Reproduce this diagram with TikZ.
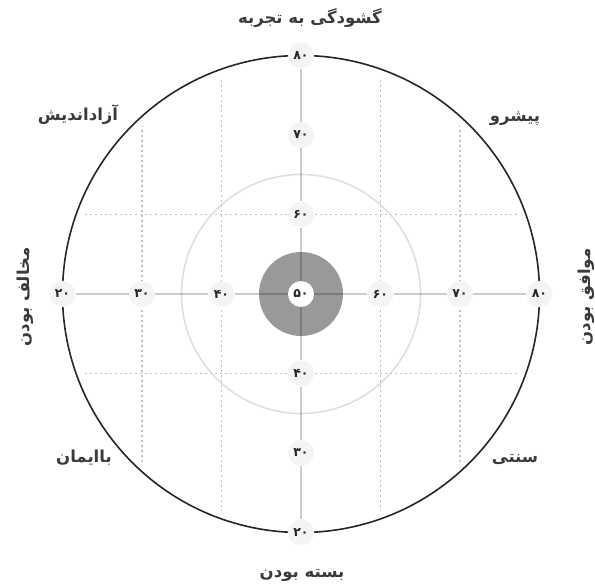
\documentclass[tikz,border=0pt]{standalone}
\usepackage{fontspec}
\usepackage{xcolor}
\usetikzlibrary{positioning}
\newfontfamily\arabicfont[Script=Arabic,BoldFont=DejaVu Sans Bold]{DejaVu Sans}
\TeXXeTstate=1
\definecolor{inkGray}{HTML}{3A3A3A}
\tikzset{
    tickNode/.style={circle, fill=gray!9, inner sep=0pt, minimum size=26pt, text=black!85, font={\arabicfont\bfseries\fontsize{12.5}{12.5}\selectfont}},
    axisLine/.style={black, opacity=0.2, line width=1.8pt},
    gridLine/.style={gray!50, line width=1.5pt, dash pattern=on 1.6pt off 3.4pt},
    traitLabel/.style={text=inkGray, inner sep=0pt, font={\arabicfont\bfseries\fontsize{16.5}{16.5}\selectfont}}
}

\begin{document}
\begin{tikzpicture}[x=1pt, y=-1pt]
    \useasboundingbox (0,0) rectangle (595,588);
    \coordinate (c) at (301,294);
    % --- rings ---
    \begin{scope}
        \clip (c) circle[radius=231pt];
        \draw[gridLine] (142,40)--(142,550); \draw[gridLine] (221.5,40)--(221.5,550);
        \draw[gridLine] (380.5,40)--(380.5,550); \draw[gridLine] (460,40)--(460,550);
        \draw[gridLine] (50,214.5)--(560,214.5); \draw[gridLine] (50,373.5)--(560,373.5);
    \end{scope}
    \draw[gray!25, line width=1.6pt] (c) circle[radius=119.5pt];
    \fill[black!40] (c) circle[radius=42pt];
    \draw[black!85, line width=1.6pt] (c) circle[radius=238.5pt];
    % --- ticks ---
    \node[tickNode] (h20) at (62.5,294) {۲۰};
    \node[tickNode] (h30) at (142,294) {۳۰};
    \node[tickNode] (h40) at (221.5,294) {۴۰};
    \node[tickNode, fill=white] (c50) at (c) {۵۰};
    \node[tickNode] (h60) at (380.5,294) {۶۰};
    \node[tickNode] (h70) at (460,294) {۷۰};
    \node[tickNode] (h80) at (539.5,294) {۸۰};
    \node[tickNode] (v80) at (301,55.5) {۸۰};
    \node[tickNode] (v70) at (301,135) {۷۰};
    \node[tickNode] (v60) at (301,214.5) {۶۰};
    \node[tickNode] (v40) at (301,373.5) {۴۰};
    \node[tickNode] (v30) at (301,453) {۳۰};
    \node[tickNode] (v20) at (301,532.5) {۲۰};
    \draw[axisLine] (h20)--(h30); \draw[axisLine] (h30)--(h40); \draw[axisLine] (h40)--(c50);
    \draw[axisLine] (c50)--(h60); \draw[axisLine] (h60)--(h70); \draw[axisLine] (h70)--(h80);
    \draw[axisLine] (v80)--(v70); \draw[axisLine] (v70)--(v60); \draw[axisLine] (v60)--(c50);
    \draw[axisLine] (c50)--(v40); \draw[axisLine] (v40)--(v30); \draw[axisLine] (v30)--(v20);
    % --- traits ---
    \node[traitLabel] (open) at (310,18) {\beginR گشودگی به تجربه\endR};
    \node[traitLabel] (closed) at (302,575) {\beginR بسته بودن\endR};
    \node[traitLabel, rotate=90] (disagree) at (25,297) {\beginR مخالف بودن\endR};
    \node[traitLabel, rotate=90] (agree) at (586,297) {\beginR موافق بودن\endR};
    \node[traitLabel] (liberal) at (78,115) {آزاداندیش};
    \node[traitLabel] (progressive) at (515,119) {پیشرو};
    \node[traitLabel] (faithful) at (84,458) {باایمان};
    \node[traitLabel] (traditional) at (515,460) {سنتی};
\end{tikzpicture}
\end{document}
